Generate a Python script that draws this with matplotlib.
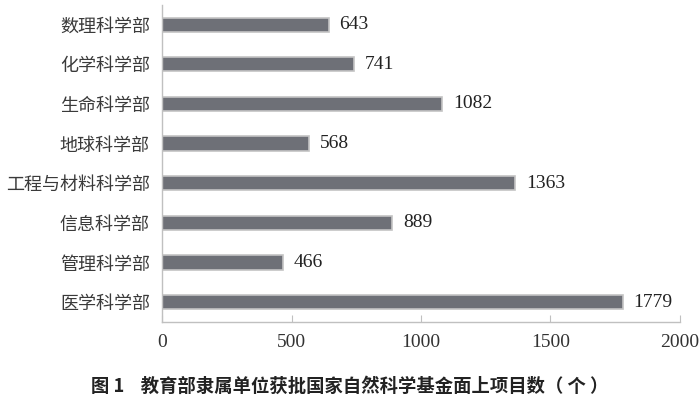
import matplotlib
matplotlib.use("Agg")
import matplotlib.pyplot as plt

categories = ["数理科学部", "化学科学部", "生命科学部", "地球科学部",
              "工程与材料科学部", "信息科学部", "管理科学部", "医学科学部"]
counts = [643, 741, 1082, 568, 1363, 889, 466, 1779]
x_ticks = [0, 500, 1000, 1500, 2000]

cjk = ["Noto Sans CJK SC", "DejaVu Sans"]
serif = ["Liberation Serif", "DejaVu Serif"]

fig = plt.figure(figsize=(7, 4.04), dpi=100)
ax = fig.add_axes([0.232, 0.203, 0.739, 0.785])

ypos = list(range(len(categories)))
ax.barh(ypos, counts, height=0.36, color="#6e7077", edgecolor="#c4c4c4", linewidth=1.2)

# value labels just right of each bar
for y, v in zip(ypos, counts):
    ax.text(v + 42, y, str(v), va="center", ha="left", fontsize=14,
            family=serif, color="#222222")

ax.set_ylim(len(categories) - 0.5, -0.5)
ax.set_xlim(0, 2000)
ax.set_yticks(ypos)
ax.set_yticklabels(categories, family=cjk, fontsize=13, color="#3a3a3a")
ax.set_xticks(x_ticks)
ax.set_xticklabels([str(t) for t in x_ticks], family=serif, fontsize=14, color="#333333")

for s in ["top", "right"]:
    ax.spines[s].set_visible(False)
for s in ["left", "bottom"]:
    ax.spines[s].set_color("#c0c0c0")
    ax.spines[s].set_linewidth(1.0)
ax.tick_params(axis="y", length=0, pad=9)
ax.tick_params(axis="x", direction="in", length=5, color="#c0c0c0", pad=9)

fig.text(0.5, 0.043, "图 1    教育部隶属单位获批国家自然科学基金面上项目数（ 个 ）",
         ha="center", va="center", fontsize=13.2, fontweight="bold",
         family=cjk, color="#222222")

fig.savefig("out.png", dpi=100)
